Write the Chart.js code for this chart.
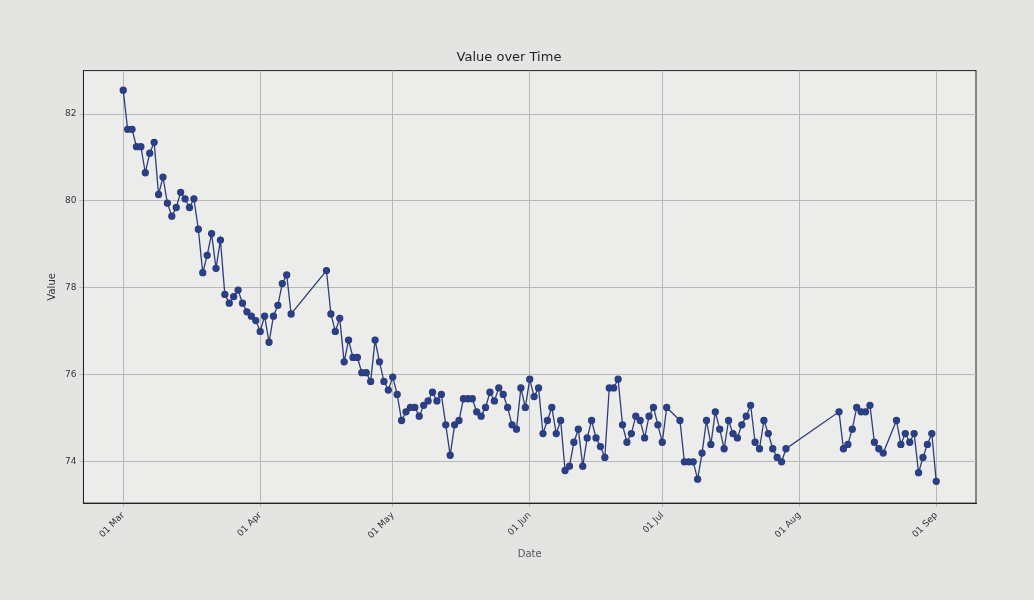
<!DOCTYPE html>
<html><head><meta charset="utf-8">
<script src="https://cdn.jsdelivr.net/npm/chart.js@4/dist/chart.umd.min.js"></script>
<style>html,body{margin:0;background:#e4e4e2;}#w{position:absolute;left:0;top:0;width:1034px;height:600px;}</style>
</head><body><div id="w"><canvas id="c"></canvas></div>
<script>
const dayOffsets=[0,1,2,3,4,5,6,7,8,9,10,11,12,13,14,15,16,17,18,19,20,21,22,23,24,25,26,27,28,29,30,31,32,33,34,35,36,37,38,
46,47,48,49,50,51,52,53,54,55,56,57,58,59,60,61,62,63,64,65,66,67,68,69,70,71,72,73,74,75,76,77,78,79,80,81,82,83,84,85,86,87,88,89,90,91,92,93,94,95,96,97,98,99,100,101,102,103,104,105,106,107,108,109,110,111,112,113,114,115,116,117,118,119,120,121,122,123,126,127,128,129,130,131,132,133,134,135,136,137,138,139,140,141,142,143,144,145,146,147,148,149,150,
162,163,164,165,166,167,168,169,170,171,172,175,176,177,178,179,180,181,182,183,184];
const values=[82.55,81.65,81.65,81.25,81.25,80.65,81.1,81.35,80.15,80.55,79.95,79.65,79.85,80.2,80.05,79.85,80.05,79.35,78.35,78.75,79.25,78.45,79.1,77.85,77.65,77.8,77.95,77.65,77.45,77.35,77.25,77.0,77.35,76.75,77.35,77.6,78.1,78.3,77.4,
78.4,77.4,77.0,77.3,76.3,76.8,76.4,76.4,76.05,76.05,75.85,76.8,76.3,75.85,75.65,75.95,75.55,74.95,75.15,75.25,75.25,75.05,75.3,75.4,75.6,75.4,75.55,74.85,74.15,74.85,74.95,75.45,75.45,75.45,75.15,75.05,75.25,75.6,75.4,75.7,75.55,75.25,74.85,74.75,75.7,75.25,75.9,75.5,75.7,74.65,74.95,75.25,74.65,74.95,73.8,73.9,74.45,74.75,73.9,74.55,74.95,74.55,74.35,74.1,75.7,75.7,75.9,74.85,74.45,74.65,75.05,74.95,74.55,75.05,75.25,74.85,74.45,75.25,74.95,74.0,74.0,74.0,73.6,74.2,74.95,74.4,75.15,74.75,74.3,74.95,74.65,74.55,74.85,75.05,75.3,74.45,74.3,74.95,74.65,74.3,74.1,74.0,74.3,
75.15,74.3,74.4,74.75,75.25,75.15,75.15,75.3,74.45,74.3,74.2,74.95,74.4,74.65,74.45,74.65,73.75,74.1,74.4,74.65,73.55];
const monthTickDays=[0,31,61,92,122,153,184];
const monthTickLabels=['01 Mar','01 Apr','01 May','01 Jun','01 Jul','01 Aug','01 Sep'];
const valueTicks=[74,76,78,80,82];
const pts=dayOffsets.map((d,i)=>({x:d,y:values[i]}));
new Chart(document.getElementById('c'),{
 type:'line',
 data:{datasets:[{data:pts,borderColor:'#2c3d7a',backgroundColor:'#27408f',borderWidth:1.3,pointRadius:3,pointHoverRadius:3,tension:0}]},
 options:{responsive:true,maintainAspectRatio:false,animation:false,
  layout:{padding:{left:42,right:58,top:50,bottom:36}},
  plugins:{legend:{display:false},title:{display:true,text:'Value over Time',color:'#222',font:{family:'DejaVu Sans',size:13,weight:'normal'},padding:{top:0,bottom:5}}},
  scales:{
   x:{type:'linear',min:-9,max:193,
    afterBuildTicks:s=>{s.ticks=monthTickDays.map(v=>({value:v}));},
    ticks:{maxRotation:45,minRotation:45,color:'#333',font:{family:'DejaVu Sans',size:9},callback:v=>monthTickLabels[monthTickDays.indexOf(v)]},
    grid:{color:'#b8b8b8',drawTicks:true,tickLength:4},border:{color:'#222'},
    title:{display:true,text:'Date',color:'#555',font:{family:'DejaVu Sans',size:10}}},
   y:{min:73.05,max:83,
    afterBuildTicks:s=>{s.ticks=valueTicks.map(v=>({value:v}));},
    ticks:{color:'#333',font:{family:'DejaVu Sans',size:9}},
    grid:{color:'#b8b8b8',tickLength:4},border:{color:'#222'},
    title:{display:true,text:'Value',color:'#333',font:{family:'DejaVu Sans',size:10}}}
  }},
 plugins:[{id:'bg',beforeDraw(c){const a=c.chartArea,x=c.ctx;x.save();x.fillStyle='#ececea';x.fillRect(a.left,a.top,a.right-a.left,a.bottom-a.top);x.strokeStyle='#222';x.strokeRect(a.left,a.top,a.right-a.left,a.bottom-a.top);x.restore();}}]
});
</script></body></html>
